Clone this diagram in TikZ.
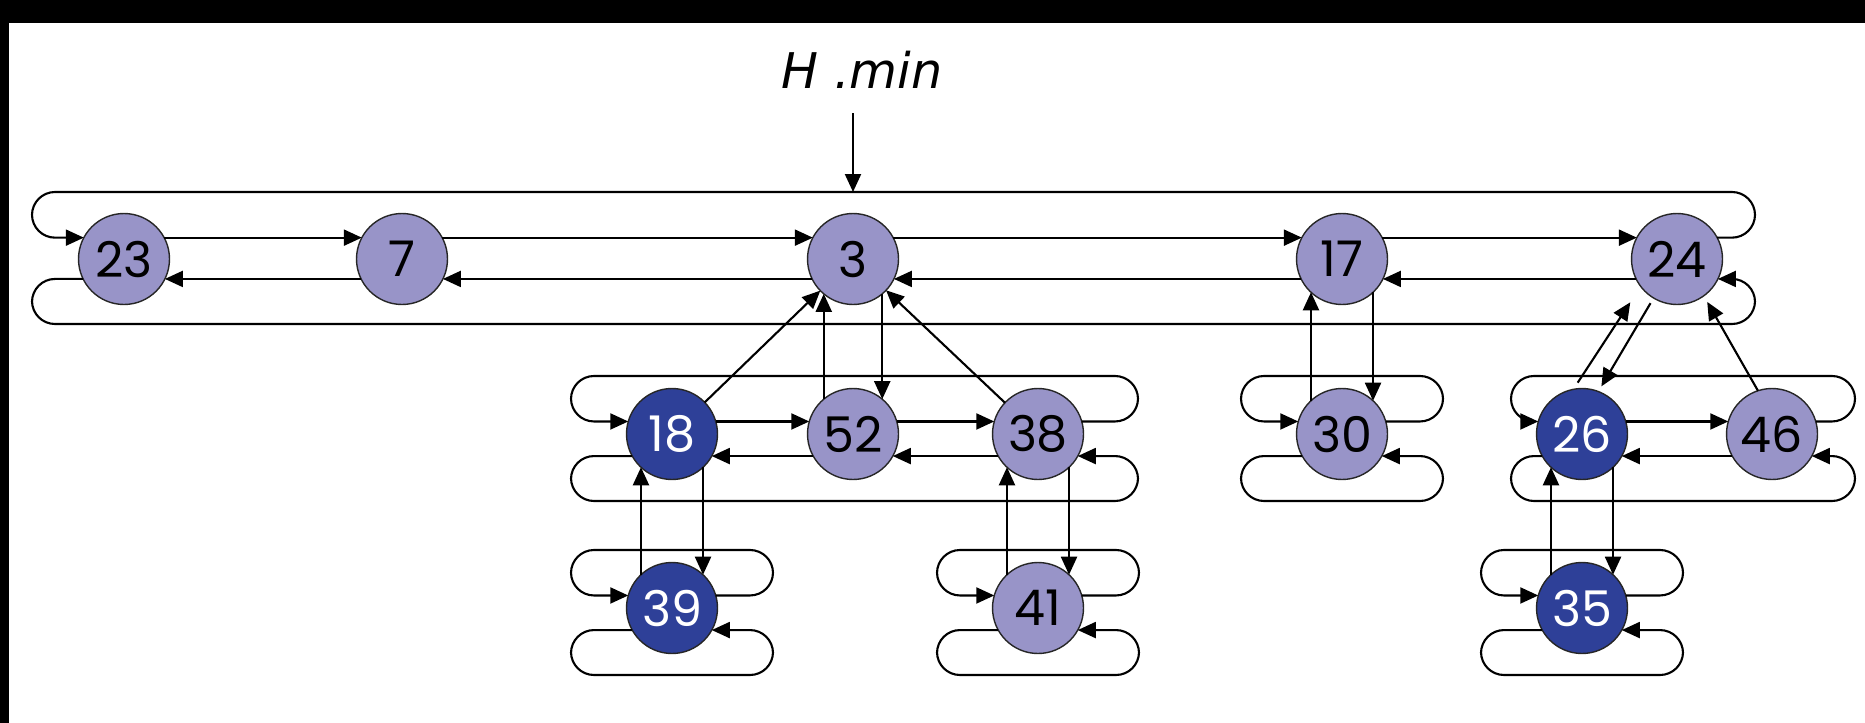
\documentclass[tikz,border=0pt]{standalone}
\usepackage{fontspec}
\usetikzlibrary{arrows.meta, calc}
\newfontfamily\numfont{Poppins}
\newfontfamily\labfont{DejaVu Sans}
\definecolor{lav}{RGB}{152,148,200}
\definecolor{navy}{RGB}{46,64,152}

\begin{document}
\begin{tikzpicture}[x=0.02cm, y=-0.02cm,
  key/.style={circle, draw=black!85, line width=0.8pt, fill=lav,
    minimum size=1.82cm, inner sep=0pt, outer sep=0pt,
    font=\numfont\fontsize{28}{28}\selectfont},
  dkey/.style={key, fill=navy, text=white},
  ptr/.style={-{Triangle[length=0.36cm, width=0.32cm]}, line width=1.2pt},
  ring/.style={ptr, rounded corners=0.46cm}]
  \useasboundingbox (0,0) rectangle (1865,723);
  % Screen edges
  \fill[black] (0,0) rectangle (1865,23);
  \fill[black] (0,0) rectangle (9,723);

  % Root list
  \node[key] (n23) at (124,259) {23};
  \node[key] (n7) at (402,259) {7};
  \node[key] (n3) at (853,259) {3};
  \node[key] (n17) at (1342,259) {17};
  \node[key] (n24) at (1677,259) {24};

  % Children
  \node[dkey] (n18) at (672,434) {18};
  \node[key] (n52) at (853,434) {52};
  \node[key] (n38) at (1038,434) {38};
  \node[key] (n30) at (1342,434) {30};
  \node[dkey] (n26) at (1582,434) {26};
  \node[key] (n46) at (1772,434) {46};
  \node[dkey] (n39) at (672,608) {39};
  \node[key] (n41) at (1038,608) {41};
  \node[dkey] (n35) at (1582,608) {35};

  % Min pointer
  \node[font=\labfont\itshape\fontsize{28}{28}\selectfont, inner sep=0pt,
    anchor=base] (hmin) at (862,89) {H .min};
  \coordinate (mintip) at (853,192);
  \draw[ptr, shorten <=0.48cm] (hmin.south -| mintip) -- (mintip);

  % Root list links
  \foreach \a/\b in {23/7, 7/3, 3/17, 17/24} {
    \draw[ptr] (n\a.28) -- (n\b.152);
    \draw[ptr] (n\b.206) -- (n\a.334);
  }
  \draw[ring] (n24.28) -| (1755,192) -| (32,0 |- n23.152) -- (n23.152);
  \draw[ring] (n23.206) -| (32,324) -| (1755,0 |- n24.334) -- (n24.334);

  % Sibling links
  \foreach \a/\b in {18/52, 52/38, 26/46} {
    \draw[ptr] (n\a.16) -- (n\b.164);
    \draw[ptr] (n\b.209) -- (n\a.331);
  }
  \foreach \l/\r/\xl/\xr/\yt/\yb in {18/38/571/1138/376/501, 30/30/1241/1443/376/501,
      26/46/1511/1855/376/501, 39/39/571/773/550/675,
      41/41/937/1139/550/675, 35/35/1481/1683/550/675} {
    \draw[ring] (n\r.16) -| (\xr,\yt) -| (\xl,0 |- n\l.164) -- (n\l.164);
    \draw[ring] (n\l.209) -| (\xl,\yb) -| (\xr,0 |- n\r.331) -- (n\r.331);
  }

  % Parent and child pointers
  \draw[ptr] (n18) -- (n3);
  \draw[ptr] (n38) -- (n3);
  \draw[ptr] (n52.130) -- (n3.230);
  \draw[ptr] (n3.310) -- (n52.50);
  \foreach \p/\c in {18/39, 38/41, 17/30, 26/35} {
    \draw[ptr] (n\c.133) -- (n\p.227);
    \draw[ptr] (n\p.313) -- (n\c.47);
  }
  \draw[ptr, shorten <=0.16cm, shorten >=0.38cm] (n26.101) -- (n24.217);
  \draw[ptr, shorten <=0.12cm, shorten >=0.12cm] (n24.239) -- (n26.69);
  \draw[ptr, shorten >=0.14cm] (n46.108) -- (n24.306);
\end{tikzpicture}
\end{document}
